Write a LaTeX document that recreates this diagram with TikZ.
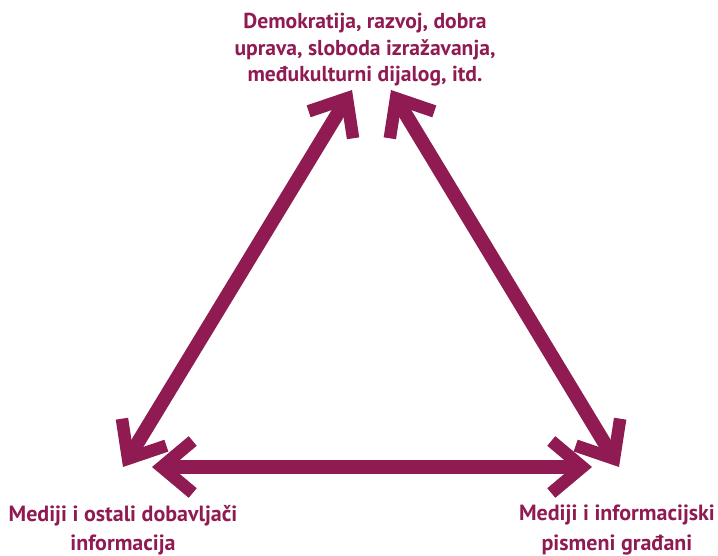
\documentclass[tikz,border=0pt]{standalone}
\usepackage{fontspec}
\setmainfont{PT Sans}
\usetikzlibrary{arrows.meta}
\definecolor{plum}{RGB}{143,27,82}
\begin{document}
\begin{tikzpicture}[x=1pt,y=1pt,
  lbl/.style={text=plum,font=\bfseries\fontsize{21.6}{26.5}\selectfont,align=center,inner sep=0pt},
  lblb/.style={lbl,font=\bfseries\fontsize{22}{29.5}\selectfont},
  chev/.style={draw=plum,line width=14pt,line join=miter,
    {Straight Barb[length=31pt,width=52pt,line width=12.5pt]}-{Straight Barb[length=31pt,width=52pt,line width=12.5pt]}}]
\path[use as bounding box] (0,0) rectangle (718,556);
\node[lbl,anchor=north] (top) at (365,543) {Demokratija, razvoj, dobra\\uprava, sloboda izražavanja,\\međukulturni dijalog, itd.};
\node[lblb,anchor=north] (bl) at (123,51) {Mediji i ostali dobavljači\\informacija};
\node[lblb,anchor=north] (br) at (617,51) {Mediji i informacijski\\pismeni građani};
\coordinate (lt) at (352,466);
\coordinate (rt) at (391,466);
\coordinate (lb) at (123,89);
\coordinate (rb) at (619,89);
\coordinate (hl) at (152,89);
\coordinate (hr) at (592,89);
\draw[chev] (lb) -- (lt);
\draw[chev] (rt) -- (rb);
\draw[chev] (hl) -- (hr);
\end{tikzpicture}
\end{document}
